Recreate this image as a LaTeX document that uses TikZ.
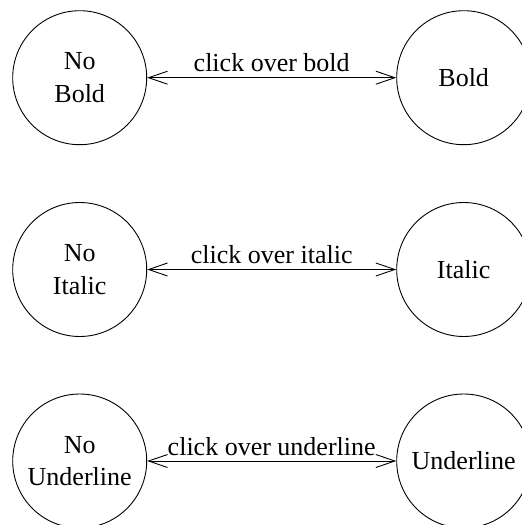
\documentclass[tikz,border=0pt]{standalone}
\usepackage{fontspec}
\setmainfont{Liberation Serif}
\usetikzlibrary{arrows.meta}
\begin{document}
\begin{tikzpicture}[x=1pt,y=-1pt,
  state/.style={draw, circle, line width=0.9pt, minimum size=134pt, inner sep=0pt,
    align=center, font=\fontsize{26}{32.6}\selectfont},
  toggle/.style={line width=0.9pt, {Straight Barb[length=19pt,width=13pt]}-{Straight Barb[length=19pt,width=13pt]}},
  lbl/.style={above=1.7pt, font=\fontsize{26}{30}\selectfont}]
  \useasboundingbox (0,0) rectangle (522,525);
  \clip (0,0) rectangle (522,525);

  % bold toggle
  \node[state] (nb) at (79.7,77.7) {No\\Bold};
  \node[state] (b)  at (463.7,77.7) {Bold};
  \draw[toggle] (nb) -- (b) node[midway, lbl] {click over bold};

  % italic toggle
  \node[state] (ni) at (79.7,269.5) {No\\Italic};
  \node[state] (i)  at (463.7,269.5) {Italic};
  \draw[toggle] (ni) -- (i) node[midway, lbl] {click over italic};

  % underline toggle
  \node[state] (nu) at (79.7,461) {No\\Underline};
  \node[state] (u)  at (463.7,461) {Underline};
  \draw[toggle] (nu) -- (u) node[midway, lbl] {click over underline};
\end{tikzpicture}
\end{document}
